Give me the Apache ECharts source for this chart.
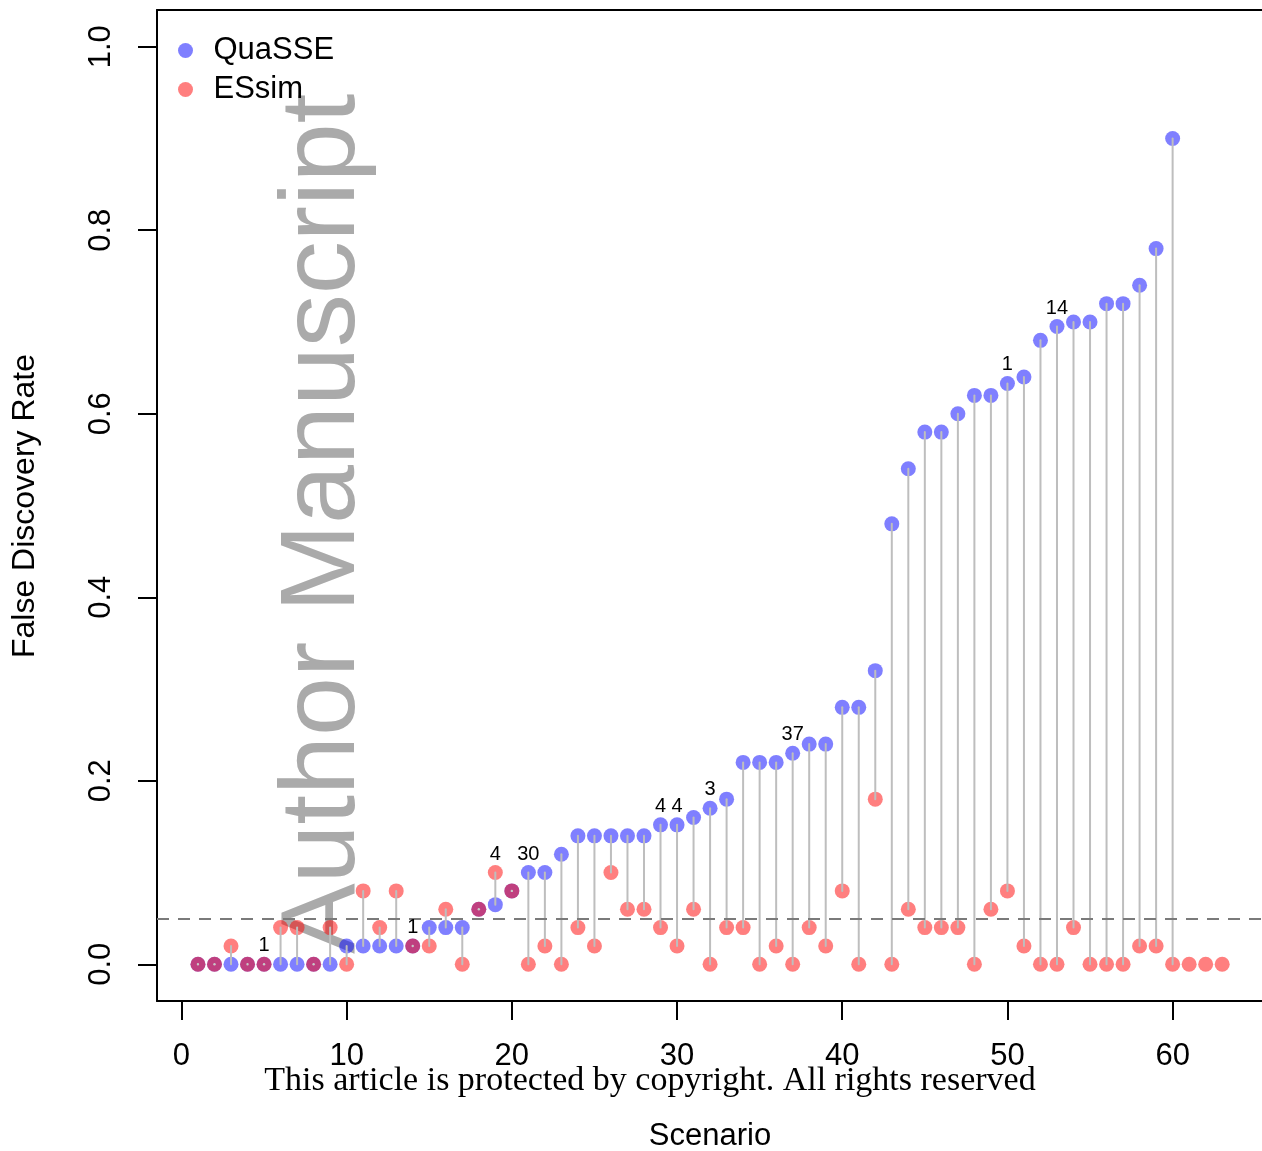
<!DOCTYPE html>
<html><head><meta charset="utf-8">
<script src="https://cdn.jsdelivr.net/npm/echarts@6/dist/echarts.min.js"></script>
<style>html,body{margin:0;padding:0;background:#fff}#c{width:1262px;height:1151px}</style>
</head><body><div id="c"></div>
<script>
// ---- data ----
const scenarios = [];
for (let i = 1; i <= 63; i++) scenarios.push(i);
const quasse = [0,0,0,0,0,0,0,0,0,0.02,
  0.02,0.02,0.02,0.02,0.04,0.04,0.04,0.06,0.065,0.08,
  0.10,0.10,0.12,0.14,0.14,0.14,0.14,0.14,0.152,0.152,
  0.16,0.17,0.18,0.22,0.22,0.22,0.23,0.24,0.24,0.28,
  0.28,0.32,0.48,0.54,0.58,0.58,0.60,0.62,0.62,0.633,
  0.64,0.68,0.695,0.70,0.70,0.72,0.72,0.74,0.78,0.90];
const essim = [0,0,0.02,0,0,0.04,0.04,0,0.04,0,
  0.08,0.04,0.08,0.02,0.02,0.06,0,0.06,0.10,0.08,
  0,0.02,0,0.04,0.02,0.10,0.06,0.06,0.04,0.02,
  0.06,0,0.04,0.04,0,0.02,0,0.04,0.02,0.08,
  0,0.18,0,0.06,0.04,0.04,0.04,0,0.06,0.08,
  0.02,0,0,0.04,0,0,0,0.02,0.02,0,
  0,0,0];
const countLabelScenarios = [5,14,19,21,29,30,32,37,50,53];
const countLabels = ['1','1','4','30','4','4','3','37','1','14'];
const xTicks = [0,10,20,30,40,50,60];
const yTicks = [0,0.2,0.4,0.6,0.8,1.0];
const fdrThreshold = 0.05;

// ---- build ----
const FONT = 'Liberation Sans, Arial, Helvetica, sans-serif';
const qData = quasse.map((v, i) => [scenarios[i], v]);
const eData = essim.map((v, i) => [scenarios[i], v]);
const segData = quasse.map((v, i) => [scenarios[i], v, essim[i]]);
const lblData = countLabelScenarios.map((s, k) => {
  const i = s - 1;
  const y = Math.max(i < quasse.length ? quasse[i] : 0, essim[i]);
  return [s, y, countLabels[k]];
});
const XMIN = -1.48, XMAX = 65.41;
const boxLine = {show: true, onZero: false, lineStyle: {color: '#000', width: 2}};

const chart = echarts.init(document.getElementById('c'), null, {renderer: 'canvas'});
chart.setOption({
  animation: false,
  backgroundColor: '#fff',
  grid: {left: 157, top: 10, right: 0, bottom: 150, show: false},
  xAxis: [{
    type: 'value', min: XMIN, max: XMAX, position: 'bottom',
    axisLine: boxLine,
    splitLine: {show: false},
    axisTick: {show: true, inside: false, length: 19, customValues: xTicks,
      lineStyle: {color: '#000', width: 2}},
    axisLabel: {show: true, customValues: xTicks, margin: 40, color: '#000',
      fontSize: 31, fontFamily: FONT, formatter: v => String(v)}
  }, {
    type: 'value', min: XMIN, max: XMAX, position: 'top',
    axisLine: boxLine, axisTick: {show: false}, axisLabel: {show: false},
    splitLine: {show: false}
  }],
  yAxis: {
    type: 'value', min: -0.04, max: 1.04,
    axisLine: boxLine,
    splitLine: {show: false},
    axisTick: {show: true, inside: false, length: 19, customValues: yTicks,
      lineStyle: {color: '#000', width: 2}},
    axisLabel: {show: true, customValues: yTicks, margin: 40, rotate: 90, color: '#000',
      fontSize: 31, fontFamily: FONT, formatter: v => v.toFixed(1)}
  },
  legend: {
    data: ['QuaSSE', 'ESsim'], orient: 'vertical', left: 178, top: 35, padding: 0,
    itemWidth: 46, itemHeight: 15, itemGap: 8, icon: 'circle',
    textStyle: {fontSize: 31, fontFamily: FONT, color: '#000', lineHeight: 31}
  },
  graphic: [
    {type: 'text', z: -1, zlevel: 0, x: 325, y: 524, rotation: Math.PI / 2, silent: true,
      style: {text: 'Author Manuscript', font: '106px ' + FONT, fill: '#aaaaaa',
        textAlign: 'center', textVerticalAlign: 'middle'}},
    {type: 'text', x: 650, y: 1081, silent: true,
      style: {text: 'This article is protected by copyright. All rights reserved',
        font: '34px Liberation Serif, Times New Roman, serif', fill: '#000',
        textAlign: 'center', textVerticalAlign: 'middle'}},
    {type: 'text', x: 710, y: 1136, silent: true,
      style: {text: 'Scenario', font: '31px ' + FONT, fill: '#000',
        textAlign: 'center', textVerticalAlign: 'middle'}},
    {type: 'text', x: 25, y: 506, rotation: Math.PI / 2, silent: true,
      style: {text: 'False Discovery Rate', font: '32px ' + FONT, fill: '#000',
        textAlign: 'center', textVerticalAlign: 'middle'}}
  ],
  series: [
    {name: 'QuaSSE', type: 'scatter', data: qData, symbol: 'circle', symbolSize: 15,
      itemStyle: {color: 'rgba(0,0,255,0.5)', opacity: 1}, z: 2, silent: true},
    {name: 'ESsim', type: 'scatter', data: eData, symbol: 'circle', symbolSize: 15,
      itemStyle: {color: 'rgba(255,0,0,0.5)', opacity: 1}, z: 3, silent: true},
    {name: 'segments', type: 'custom', data: segData, z: 4, silent: true,
      encode: {x: 0, y: [1, 2]},
      markLine: {silent: true, symbol: 'none', label: {show: false},
        lineStyle: {color: '#7a7a7a', width: 2, type: [12, 9]},
        data: [{yAxis: fdrThreshold}]},
      renderItem: function (params, api) {
        const x = api.value(0), a = api.value(1), b = api.value(2);
        const p1 = api.coord([x, a]), p2 = api.coord([x, b]);
        if (a === b) {
          return {type: 'circle', shape: {cx: p1[0], cy: p1[1], r: 1.2}, style: {fill: '#c8c8c8'}};
        }
        return {type: 'line', shape: {x1: p1[0], y1: p1[1], x2: p2[0], y2: p2[1]},
          style: {stroke: '#bebebe', lineWidth: 2, lineCap: 'round'}};
      }},
    {name: 'counts', type: 'scatter', data: lblData, symbolSize: 1, z: 5, silent: true,
      itemStyle: {color: 'rgba(0,0,0,0)', opacity: 1},
      label: {show: true, position: 'top', distance: 8, color: '#000', fontSize: 20,
        fontFamily: FONT, formatter: p => p.value[2]}}
  ]
});
</script></body></html>
